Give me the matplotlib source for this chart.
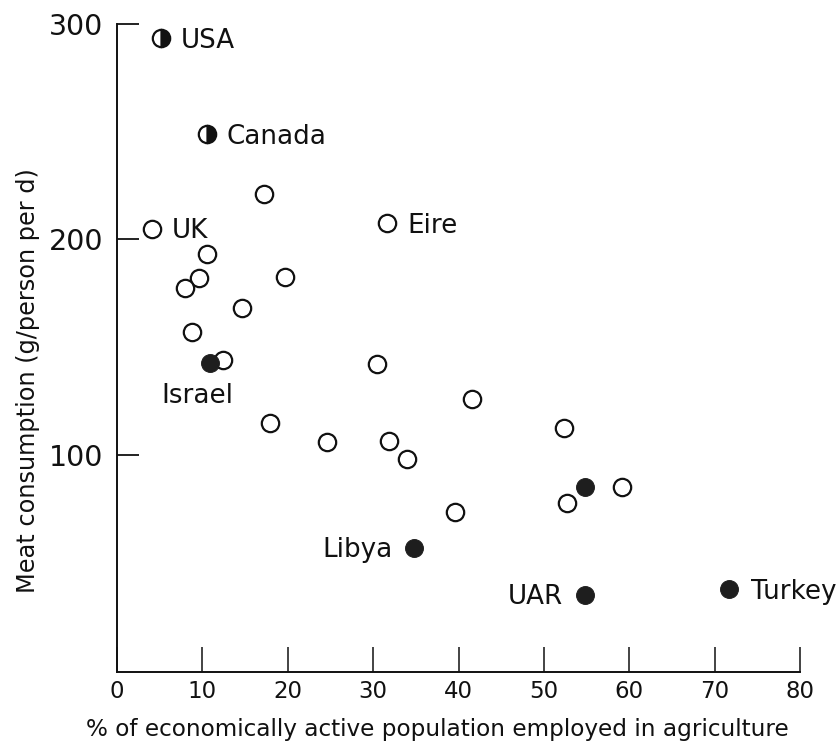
"""
Meat consumption vs. share of workforce in agriculture (scatter, book-figure style).
"""

import matplotlib
matplotlib.use('Agg')
import matplotlib.pyplot as plt

# open circles (unlabelled countries)
open_x = [17.2, 10.5, 9.6, 8.0, 19.7, 14.6, 8.8, 12.4, 30.4, 17.9,
          24.6, 31.8, 34.0, 41.6, 52.4, 59.2, 52.7, 39.6]
open_y = [221, 193, 182, 177.5, 182.5, 168, 157, 144, 142, 114.5,
          106, 106.5, 98, 126, 112.5, 85, 77.5, 73.5]

# labelled open circles
open_lab = ['UK', 'Eire']
open_lab_x = [4.1, 31.6]
open_lab_y = [205, 207.5]

# filled circles
filled_lab = ['Israel', 'Libya', 'UAR', 'Turkey', '']
filled_x = [10.9, 34.8, 54.8, 71.7, 54.8]
filled_y = [142.5, 56.7, 35.0, 37.4, 85.0]

# half-filled circles
half_lab = ['USA', 'Canada']
half_x = [5.2, 10.5]
half_y = [293.4, 248.8]

x_ticks = [0, 10, 20, 30, 40, 50, 60, 70, 80]
y_ticks = [100, 200, 300]

plt.rcParams['font.family'] = ['DejaVu Sans']

fig = plt.figure(figsize=(8.4, 7.43), dpi=100)
ax = fig.add_axes([0.1393, 0.0962, 0.8131, 0.8715])

ink = '#111111'
dark = '#1e1e1e'
ms = 12.5
mew = 1.6

ax.plot(open_x + open_lab_x, open_y + open_lab_y, 'o', ms=ms, mfc='white',
        mec=ink, mew=mew, ls='none', clip_on=False, zorder=3)
ax.plot(filled_x, filled_y, 'o', ms=ms + 0.3, mfc=dark, mec=dark, mew=0.8,
        ls='none', clip_on=False, zorder=4)
ax.plot(half_x, half_y, 'o', ms=ms, fillstyle='right', mfc=ink,
        mfcalt='white', mec=ink, mew=mew, ls='none', clip_on=False, zorder=4)

# label offsets in points (dx, dy, ha)
fs_lab = 18.8
base = -0.365 * fs_lab
offsets = {
    'USA': (14.0, base, 'left'),
    'Canada': (14.5, base, 'left'),
    'UK': (14.0, base, 'left'),
    'Eire': (14.5, base, 'left'),
    'Israel': (-9.5, -21.5 + base, 'center'),
    'Libya': (-15.5, base, 'right'),
    'UAR': (-16.0, base, 'right'),
    'Turkey': (16.0, base, 'left'),
}

for names, xs, ys in [(open_lab, open_lab_x, open_lab_y),
                      (filled_lab, filled_x, filled_y),
                      (half_lab, half_x, half_y)]:
    for name, x, y in zip(names, xs, ys):
        if not name:
            continue
        dx, dy, ha = offsets[name]
        ax.annotate(name, (x, y), xytext=(dx, dy), textcoords='offset points',
                    ha=ha, va='baseline', fontsize=fs_lab, color=ink,
                    annotation_clip=False)

ax.set_xlim(0, 80)
ax.set_ylim(-0.7, 300)

for side in ['top', 'right']:
    ax.spines[side].set_visible(False)
for side in ['left', 'bottom']:
    ax.spines[side].set_linewidth(1.4)
    ax.spines[side].set_color(ink)

ax.set_xticks(x_ticks)
ax.set_yticks(y_ticks)
ax.tick_params(axis='x', direction='in', length=18, width=1.1, pad=6,
               labelsize=16.5, colors=ink)
ax.tick_params(axis='y', direction='in', length=16, width=1.3, pad=10,
               labelsize=20.5, colors=ink)

ax.set_xlabel('% of economically active population employed in agriculture',
              fontsize=16.7, color=ink)
ax.xaxis.set_label_coords(0.4685, -0.0903)
ax.xaxis.label.set_va('center')

ax.set_ylabel('Meat consumption (g/person per d)', fontsize=17.3, color=ink)
ax.yaxis.set_label_coords(-0.130, 0.450)
ax.yaxis.label.set_va('center')

fig.savefig('out.png', dpi=100, facecolor='white')
